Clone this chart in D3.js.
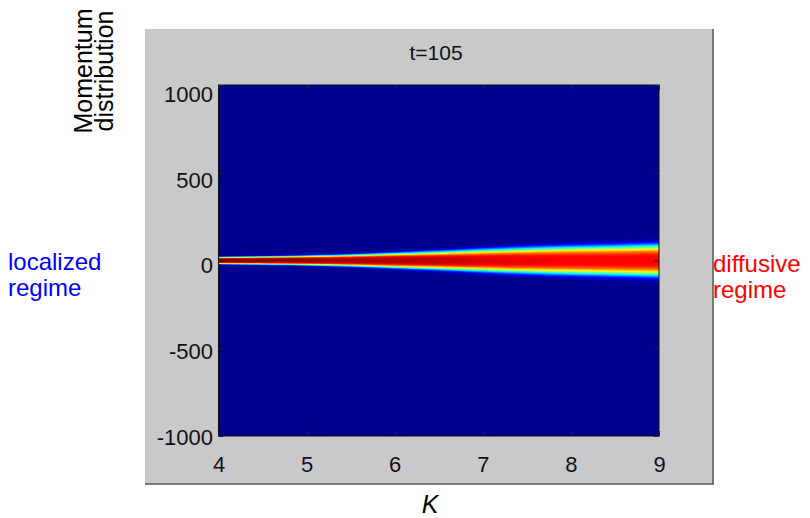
<!DOCTYPE html>
<html><head><meta charset="utf-8">
<script src="https://cdn.jsdelivr.net/npm/d3@7"></script>
<style>
body{margin:0;background:#fff}
svg{display:block}
text{font-family:"Liberation Sans",Arial,Helvetica,sans-serif}
</style>
</head><body>
<svg id="c" width="810" height="518"></svg>
<script>
// ---- data ----
const kValues      = [4, 4.5, 5, 5.5, 6, 6.5, 7, 7.5, 8, 8.5, 9];
const spreadValues = [18, 21, 25, 31, 40, 49, 60, 69, 76, 81, 87];      // width of the momentum distribution
const peakValues   = [1.0, 0.985, 0.97, 0.96, 0.95, 0.93, 0.90, 0.885, 0.875, 0.87, 0.87]; // colour level at p=0
const xTickValues  = [4, 5, 6, 7, 8, 9];
const yTickValues  = [-1000, -500, 0, 500, 1000];
const titleText = "t=105";
const xLabel = "K";
const yLabelLines = ["Momentum", "distribution"];
const leftNote = ["localized", "regime"];
const rightNote = ["diffusive", "regime"];

const rows = kValues.map((k, i) => ({k, w: spreadValues[i], peak: peakValues[i]}));

// ---- layout ----
const svg = d3.select("#c");
const plot = {left: 218.5, right: 659, top: 85, bottom: 436};

const x = d3.scaleLinear().domain([4, 9]).range([plot.left, plot.right]);
const y = d3.scaleLinear().domain([-1000, 1000]).range([plot.bottom, plot.top]);
const yLab = d3.scaleLinear().domain([-1000, 1000]).range([437, 94]);

function clamp(v){return Math.max(0, Math.min(1, v));}
function jet(j){ // MATLAB jet(64), j = 0..63
  const t = (j + 1) / 64;
  const r = clamp(1.5 - Math.abs(4*t - 3));
  const g = clamp(1.5 - Math.abs(4*t - 2));
  const b = clamp(1.5 - Math.abs(4*t - 1));
  return d3.rgb(Math.round(r*255), Math.round(g*255), Math.round(b*255)).toString();
}

// gray figure panel
svg.append("rect").attr("x", 145).attr("y", 29).attr("width", 568).attr("height", 455)
  .attr("fill", "#c9c9cb");
svg.append("line").attr("x1", 713).attr("x2", 713).attr("y1", 29).attr("y2", 484.5)
  .attr("stroke", "#555").attr("stroke-width", 1.5);
svg.append("line").attr("x1", 145).attr("x2", 713.5).attr("y1", 484).attr("y2", 484)
  .attr("stroke", "#555").attr("stroke-width", 1.5);

// clip
svg.append("clipPath").attr("id", "clip").append("rect")
  .attr("x", plot.left).attr("y", plot.top)
  .attr("width", plot.right - plot.left).attr("height", plot.bottom - plot.top);

const g = svg.append("g").attr("clip-path", "url(#clip)");
g.append("rect").attr("x", plot.left).attr("y", plot.top)
  .attr("width", plot.right - plot.left).attr("height", plot.bottom - plot.top)
  .attr("fill", jet(0));

// nested level bands of the distribution
function halfWidth(d, level){
  if (level >= d.peak) return 0;
  return d.w * Math.pow(Math.log(d.peak / level), 1 / 3.5);
}
const levels = d3.range(1, 64);
levels.forEach(j => {
  const L = j / 64;
  if (!rows.some(d => L < d.peak)) return;
  const area = d3.area()
    .x(d => x(d.k))
    .y0(d => y(-halfWidth(d, L)))
    .y1(d => y(halfWidth(d, L)))
    .curve(d3.curveMonotoneX);
  g.append("path").datum(rows).attr("d", area).attr("fill", jet(j));
});

// frame
svg.append("rect").attr("x", plot.left).attr("y", plot.top)
  .attr("width", plot.right - plot.left).attr("height", plot.bottom - plot.top)
  .attr("fill", "none").attr("stroke", "#111").attr("stroke-width", 1);

// axes (inward ticks)
const xAxis = svg.append("g").attr("transform", `translate(0,${plot.bottom})`)
  .call(d3.axisBottom(x).tickValues(xTickValues).tickSize(-5).tickPadding(20).tickFormat(d3.format("d")));
xAxis.select(".domain").remove();
xAxis.selectAll("line").attr("stroke", "#222");
xAxis.selectAll("text").attr("font-size", 22).attr("fill", "#111")
  .style("font-family", '"Liberation Sans",Arial,sans-serif');

const xAxisTop = svg.append("g").attr("transform", `translate(0,${plot.top})`)
  .call(d3.axisTop(x).tickValues(xTickValues).tickSize(-5).tickFormat(""));
xAxisTop.select(".domain").remove();
xAxisTop.selectAll("line").attr("stroke", "#222");

const yAxis = svg.append("g").attr("transform", `translate(${plot.left},0)`)
  .call(d3.axisLeft(y).tickValues(yTickValues).tickSize(-5).tickFormat(""));
yAxis.select(".domain").remove();
yAxis.selectAll("line").attr("stroke", "#222");
const yAxisR = svg.append("g").attr("transform", `translate(${plot.right},0)`)
  .call(d3.axisRight(y).tickValues(yTickValues).tickSize(-5).tickFormat(""));
yAxisR.select(".domain").remove();
yAxisR.selectAll("line").attr("stroke", "#222");

svg.append("g").selectAll("text").data(yTickValues).join("text")
  .attr("x", 213).attr("y", d => yLab(d)).attr("dy", "0.36em")
  .attr("text-anchor", "end").attr("font-size", 22).attr("fill", "#111")
  .text(d => d);

// title
svg.append("text").attr("x", 436).attr("y", 60).attr("text-anchor", "middle")
  .attr("font-size", 21).attr("fill", "#111").text(titleText);

// x label
svg.append("text").attr("x", 430).attr("y", 513).attr("text-anchor", "middle")
  .attr("font-size", 25).attr("font-style", "italic").attr("fill", "#000").text(xLabel);

// y label (rotated, two lines in one text)
const yl = svg.append("text").attr("transform", "translate(92,71) rotate(-90)")
  .attr("text-anchor", "middle").attr("font-size", 25).attr("fill", "#000");
yLabelLines.forEach((t, i) => {
  yl.append("tspan").attr("x", 0).attr("dy", i === 0 ? 0 : 21).text(t);
});

// annotations (two lines each)
const ln = svg.append("text").attr("x", 8).attr("y", 270).attr("font-size", 24).attr("fill", "#0000ff");
leftNote.forEach((t, i) => ln.append("tspan").attr("x", 8).attr("dy", i === 0 ? 0 : 26).text(t));
const rn = svg.append("text").attr("x", 713).attr("y", 272).attr("font-size", 24).attr("fill", "#ff0000");
rightNote.forEach((t, i) => rn.append("tspan").attr("x", 713).attr("dy", i === 0 ? 0 : 26).text(t));
</script>
</body></html>
